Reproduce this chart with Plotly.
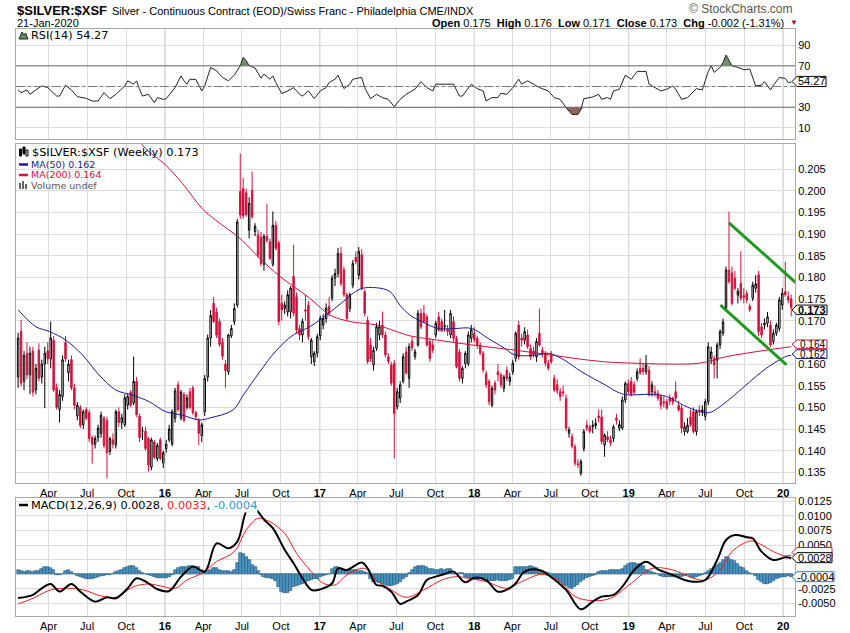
import numpy as np
import pandas as pd
import plotly.graph_objects as go

# weekly bars, week of 19-Jan-2015 .. week of 20-Jan-2020
weeks = pd.date_range("2015-01-19", periods=262, freq="7D")

open_ = [
    0.1570, 0.1675, 0.1560, 0.1625, 0.1575, 0.1630, 0.1540, 0.1632, 0.1570, 0.1600,
    0.1630, 0.1612, 0.1655, 0.1545, 0.1495, 0.1525, 0.1650, 0.1580, 0.1610, 0.1545,
    0.1480, 0.1500, 0.1460, 0.1495, 0.1488, 0.1430, 0.1415, 0.1430, 0.1440, 0.1475,
    0.1470, 0.1398, 0.1425, 0.1413, 0.1490, 0.1465, 0.1460, 0.1505, 0.1535, 0.1510,
    0.1560, 0.1480, 0.1445, 0.1445, 0.1428, 0.1362, 0.1420, 0.1382, 0.1425, 0.1372,
    0.1405, 0.1425, 0.1415, 0.1475, 0.1552, 0.1475, 0.1530, 0.1500, 0.1536, 0.1545,
    0.1488, 0.1470, 0.1435, 0.1490, 0.1570, 0.1660, 0.1740, 0.1720, 0.1698, 0.1650,
    0.1600, 0.1582, 0.1665, 0.1698, 0.1736, 0.1998, 0.2005, 0.1995, 0.1909, 0.2001,
    0.1906, 0.1898, 0.1893, 0.1830, 0.1895, 0.1882, 0.1830, 0.1920, 0.1880, 0.1740,
    0.1728, 0.1720, 0.1721, 0.1802, 0.1755, 0.1682, 0.1667, 0.1725, 0.1736, 0.1617,
    0.1605, 0.1625, 0.1665, 0.1690, 0.1705, 0.1733, 0.1752, 0.1798, 0.1809, 0.1855,
    0.1817, 0.1760, 0.1728, 0.1782, 0.1846, 0.1805, 0.1852, 0.1767, 0.1701, 0.1644,
    0.1598, 0.1636, 0.1667, 0.1690, 0.1667, 0.1617, 0.1598, 0.1602, 0.1502, 0.1521,
    0.1560, 0.1628, 0.1567, 0.1652, 0.1617, 0.1644, 0.1717, 0.1717, 0.1709, 0.1652,
    0.1644, 0.1667, 0.1709, 0.1698, 0.1686, 0.1680, 0.1667, 0.1698, 0.1659, 0.1628,
    0.1567, 0.1601, 0.1601, 0.1660, 0.1671, 0.1659, 0.1644, 0.1625, 0.1578, 0.1560,
    0.1505, 0.1556, 0.1582, 0.1575, 0.1544, 0.1586, 0.1560, 0.1582, 0.1613, 0.1690,
    0.1660, 0.1655, 0.1667, 0.1636, 0.1630, 0.1617, 0.1671, 0.1632, 0.1625, 0.1602,
    0.1620, 0.1567, 0.1552, 0.1536, 0.1536, 0.1521, 0.1440, 0.1432, 0.1409, 0.1370,
    0.1348, 0.1405, 0.1459, 0.1455, 0.1455, 0.1458, 0.1480, 0.1478, 0.1413, 0.1432,
    0.1425, 0.1428, 0.1475, 0.1452, 0.1452, 0.1517, 0.1555, 0.1560, 0.1552, 0.1567,
    0.1590, 0.1590, 0.1582, 0.1586, 0.1536, 0.1536, 0.1532, 0.1525, 0.1513, 0.1513,
    0.1521, 0.1521, 0.1536, 0.1505, 0.1498, 0.1444, 0.1444, 0.1478, 0.1490, 0.1444,
    0.1494, 0.1490, 0.1479, 0.1513, 0.1613, 0.1613, 0.1609, 0.1644, 0.1671, 0.1729,
    0.1817, 0.1810, 0.1798, 0.1759, 0.1786, 0.1758, 0.1763, 0.1733, 0.1752, 0.1775,
    0.1806, 0.1686, 0.1690, 0.1694, 0.1690, 0.1652, 0.1671, 0.1682, 0.1736, 0.1767,
    0.1755, 0.1750]

high = [
    0.1672, 0.1702, 0.1630, 0.1650, 0.1640, 0.1640, 0.1600, 0.1648, 0.1610, 0.1640,
    0.1650, 0.1698, 0.1665, 0.1555, 0.1540, 0.1620, 0.1665, 0.1610, 0.1620, 0.1555,
    0.1512, 0.1505, 0.1495, 0.1500, 0.1495, 0.1435, 0.1435, 0.1460, 0.1490, 0.1480,
    0.1478, 0.1432, 0.1440, 0.1495, 0.1500, 0.1485, 0.1530, 0.1532, 0.1540, 0.1617,
    0.1570, 0.1485, 0.1455, 0.1455, 0.1432, 0.1430, 0.1425, 0.1418, 0.1430, 0.1400,
    0.1425, 0.1460, 0.1495, 0.1545, 0.1560, 0.1540, 0.1535, 0.1530, 0.1545, 0.1550,
    0.1492, 0.1475, 0.1465, 0.1575, 0.1668, 0.1725, 0.1755, 0.1730, 0.1705, 0.1660,
    0.1610, 0.1670, 0.1690, 0.1740, 0.1935, 0.2086, 0.2030, 0.2005, 0.1985, 0.2044,
    0.1925, 0.1910, 0.1905, 0.1900, 0.1970, 0.1890, 0.1952, 0.1930, 0.1885, 0.1760,
    0.1745, 0.1770, 0.1780, 0.1875, 0.1765, 0.1690, 0.1705, 0.1760, 0.1745, 0.1660,
    0.1630, 0.1670, 0.1712, 0.1715, 0.1740, 0.1755, 0.1805, 0.1820, 0.1868, 0.1870,
    0.1825, 0.1765, 0.1765, 0.1840, 0.1860, 0.1870, 0.1865, 0.1772, 0.1710, 0.1660,
    0.1640, 0.1695, 0.1700, 0.1721, 0.1675, 0.1625, 0.1605, 0.1610, 0.1545, 0.1560,
    0.1625, 0.1640, 0.1648, 0.1662, 0.1635, 0.1725, 0.1728, 0.1736, 0.1715, 0.1660,
    0.1655, 0.1700, 0.1720, 0.1705, 0.1725, 0.1690, 0.1725, 0.1710, 0.1665, 0.1635,
    0.1595, 0.1630, 0.1675, 0.1690, 0.1685, 0.1665, 0.1650, 0.1630, 0.1585, 0.1565,
    0.1550, 0.1562, 0.1600, 0.1580, 0.1575, 0.1595, 0.1580, 0.1610, 0.1675, 0.1700,
    0.1670, 0.1685, 0.1680, 0.1645, 0.1640, 0.1660, 0.1728, 0.1640, 0.1630, 0.1610,
    0.1630, 0.1575, 0.1565, 0.1545, 0.1550, 0.1530, 0.1455, 0.1440, 0.1415, 0.1380,
    0.1380, 0.1450, 0.1470, 0.1460, 0.1470, 0.1475, 0.1495, 0.1495, 0.1440, 0.1445,
    0.1435, 0.1460, 0.1485, 0.1470, 0.1525, 0.1560, 0.1565, 0.1570, 0.1560, 0.1590,
    0.1613, 0.1600, 0.1621, 0.1595, 0.1560, 0.1550, 0.1540, 0.1530, 0.1525, 0.1520,
    0.1530, 0.1525, 0.1560, 0.1515, 0.1505, 0.1465, 0.1475, 0.1495, 0.1500, 0.1495,
    0.1505, 0.1505, 0.1520, 0.1650, 0.1640, 0.1620, 0.1650, 0.1680, 0.1705, 0.1825,
    0.1952, 0.1825, 0.1815, 0.1775, 0.1860, 0.1775, 0.1770, 0.1740, 0.1790, 0.1805,
    0.1815, 0.1695, 0.1705, 0.1720, 0.1700, 0.1680, 0.1695, 0.1755, 0.1775, 0.1836,
    0.1768, 0.1760]

low = [
    0.1545, 0.1548, 0.1540, 0.1565, 0.1530, 0.1525, 0.1530, 0.1560, 0.1555, 0.1498,
    0.1600, 0.1590, 0.1535, 0.1495, 0.1465, 0.1515, 0.1605, 0.1560, 0.1540, 0.1495,
    0.1470, 0.1452, 0.1450, 0.1470, 0.1420, 0.1370, 0.1405, 0.1420, 0.1430, 0.1405,
    0.1336, 0.1390, 0.1405, 0.1405, 0.1455, 0.1450, 0.1455, 0.1495, 0.1500, 0.1505,
    0.1478, 0.1420, 0.1425, 0.1400, 0.1352, 0.1355, 0.1380, 0.1375, 0.1378, 0.1360,
    0.1395, 0.1420, 0.1410, 0.1465, 0.1490, 0.1470, 0.1465, 0.1495, 0.1495, 0.1482,
    0.1470, 0.1413, 0.1420, 0.1480, 0.1560, 0.1640, 0.1695, 0.1660, 0.1640, 0.1610,
    0.1545, 0.1575, 0.1660, 0.1690, 0.1730, 0.1935, 0.1935, 0.1940, 0.1890, 0.1935,
    0.1895, 0.1845, 0.1825, 0.1815, 0.1880, 0.1840, 0.1825, 0.1862, 0.1690, 0.1700,
    0.1715, 0.1710, 0.1705, 0.1710, 0.1670, 0.1655, 0.1650, 0.1700, 0.1655, 0.1600,
    0.1595, 0.1615, 0.1655, 0.1680, 0.1695, 0.1710, 0.1745, 0.1780, 0.1800, 0.1780,
    0.1755, 0.1700, 0.1720, 0.1775, 0.1830, 0.1795, 0.1770, 0.1710, 0.1600, 0.1605,
    0.1585, 0.1630, 0.1655, 0.1660, 0.1615, 0.1600, 0.1550, 0.1382, 0.1495, 0.1510,
    0.1555, 0.1575, 0.1545, 0.1630, 0.1610, 0.1640, 0.1680, 0.1695, 0.1640, 0.1605,
    0.1625, 0.1660, 0.1675, 0.1675, 0.1675, 0.1665, 0.1660, 0.1650, 0.1590, 0.1560,
    0.1555, 0.1590, 0.1595, 0.1650, 0.1650, 0.1635, 0.1620, 0.1580, 0.1545, 0.1505,
    0.1500, 0.1530, 0.1560, 0.1545, 0.1535, 0.1560, 0.1550, 0.1575, 0.1605, 0.1610,
    0.1640, 0.1645, 0.1635, 0.1610, 0.1615, 0.1605, 0.1640, 0.1615, 0.1595, 0.1585,
    0.1600, 0.1535, 0.1530, 0.1515, 0.1525, 0.1445, 0.1430, 0.1405, 0.1365, 0.1360,
    0.1342, 0.1398, 0.1445, 0.1440, 0.1440, 0.1450, 0.1465, 0.1415, 0.1386, 0.1420,
    0.1410, 0.1420, 0.1460, 0.1445, 0.1448, 0.1510, 0.1530, 0.1525, 0.1530, 0.1560,
    0.1575, 0.1575, 0.1575, 0.1525, 0.1525, 0.1525, 0.1515, 0.1495, 0.1500, 0.1495,
    0.1505, 0.1505, 0.1515, 0.1490, 0.1440, 0.1435, 0.1440, 0.1455, 0.1440, 0.1435,
    0.1480, 0.1480, 0.1470, 0.1505, 0.1600, 0.1567, 0.1567, 0.1635, 0.1665, 0.1720,
    0.1785, 0.1735, 0.1770, 0.1740, 0.1745, 0.1740, 0.1740, 0.1720, 0.1745, 0.1765,
    0.1665, 0.1660, 0.1680, 0.1685, 0.1640, 0.1645, 0.1665, 0.1675, 0.1725, 0.1755,
    0.1740, 0.1710]

close = [
    0.1660, 0.1556, 0.1620, 0.1575, 0.1625, 0.1535, 0.1590, 0.1567, 0.1600, 0.1625,
    0.1612, 0.1660, 0.1540, 0.1500, 0.1530, 0.1610, 0.1612, 0.1600, 0.1545, 0.1505,
    0.1505, 0.1458, 0.1490, 0.1475, 0.1428, 0.1415, 0.1428, 0.1452, 0.1482, 0.1412,
    0.1395, 0.1428, 0.1415, 0.1490, 0.1465, 0.1476, 0.1522, 0.1525, 0.1505, 0.1560,
    0.1483, 0.1430, 0.1445, 0.1405, 0.1367, 0.1425, 0.1385, 0.1412, 0.1382, 0.1395,
    0.1415, 0.1450, 0.1490, 0.1538, 0.1495, 0.1535, 0.1470, 0.1522, 0.1500, 0.1488,
    0.1478, 0.1440, 0.1460, 0.1567, 0.1660, 0.1712, 0.1698, 0.1667, 0.1645, 0.1618,
    0.1585, 0.1667, 0.1682, 0.1728, 0.1928, 0.1944, 0.1942, 0.1945, 0.1971, 0.1940,
    0.1918, 0.1852, 0.1832, 0.1895, 0.1885, 0.1844, 0.1920, 0.1867, 0.1698, 0.1725,
    0.1736, 0.1760, 0.1775, 0.1717, 0.1679, 0.1667, 0.1698, 0.1722, 0.1663, 0.1655,
    0.1625, 0.1663, 0.1705, 0.1705, 0.1729, 0.1718, 0.1798, 0.1809, 0.1855, 0.1786,
    0.1760, 0.1705, 0.1760, 0.1832, 0.1836, 0.1860, 0.1775, 0.1717, 0.1606, 0.1612,
    0.1632, 0.1686, 0.1686, 0.1667, 0.1621, 0.1606, 0.1556, 0.1486, 0.1536, 0.1552,
    0.1617, 0.1580, 0.1640, 0.1638, 0.1628, 0.1717, 0.1686, 0.1698, 0.1644, 0.1613,
    0.1632, 0.1694, 0.1678, 0.1676, 0.1688, 0.1675, 0.1717, 0.1659, 0.1594, 0.1567,
    0.1590, 0.1625, 0.1667, 0.1679, 0.1656, 0.1644, 0.1625, 0.1586, 0.1552, 0.1513,
    0.1544, 0.1540, 0.1575, 0.1552, 0.1570, 0.1567, 0.1570, 0.1602, 0.1671, 0.1617,
    0.1655, 0.1675, 0.1640, 0.1617, 0.1622, 0.1652, 0.1644, 0.1625, 0.1602, 0.1590,
    0.1605, 0.1540, 0.1538, 0.1525, 0.1533, 0.1452, 0.1448, 0.1410, 0.1371, 0.1367,
    0.1375, 0.1444, 0.1452, 0.1445, 0.1459, 0.1463, 0.1476, 0.1421, 0.1436, 0.1425,
    0.1418, 0.1455, 0.1470, 0.1460, 0.1517, 0.1555, 0.1536, 0.1530, 0.1535, 0.1582,
    0.1580, 0.1583, 0.1598, 0.1529, 0.1552, 0.1532, 0.1521, 0.1505, 0.1510, 0.1498,
    0.1514, 0.1512, 0.1521, 0.1494, 0.1452, 0.1455, 0.1459, 0.1460, 0.1444, 0.1490,
    0.1492, 0.1494, 0.1513, 0.1640, 0.1628, 0.1598, 0.1644, 0.1675, 0.1697, 0.1817,
    0.1790, 0.1740, 0.1775, 0.1768, 0.1752, 0.1754, 0.1748, 0.1725, 0.1782, 0.1785,
    0.1675, 0.1667, 0.1694, 0.1709, 0.1644, 0.1671, 0.1690, 0.1748, 0.1763, 0.1760,
    0.1748, 0.1730]

ma50_dates = ["2015-01-19", "2015-03-02", "2015-04-03", "2015-05-12", "2015-06-20",
              "2015-07-29", "2015-09-07", "2015-10-17", "2015-11-25", "2016-01-03",
              "2016-02-11", "2016-03-22", "2016-04-18", "2016-06-10", "2016-07-04",
              "2016-08-12", "2016-09-21", "2016-10-30", "2016-12-08", "2017-01-17",
              "2017-02-25", "2017-04-06", "2017-05-15", "2017-06-16", "2017-07-09",
              "2017-08-02", "2017-08-30", "2017-10-08", "2017-11-16", "2017-12-26",
              "2018-02-03", "2018-03-14", "2018-04-07", "2018-06-01", "2018-06-25",
              "2018-07-26", "2018-09-12", "2018-11-06", "2018-12-04", "2018-12-27",
              "2019-02-20", "2019-04-01", "2019-05-10", "2019-06-18", "2019-07-11",
              "2019-08-20", "2019-10-14", "2019-11-22", "2020-01-09", "2020-01-20"]
ma50 = [0.1725, 0.1686, 0.1675, 0.1655, 0.1621, 0.1575, 0.1540, 0.1528, 0.1513, 0.1490,
        0.1482, 0.1471, 0.1476, 0.1494, 0.1528, 0.1582, 0.1632, 0.1667, 0.1686, 0.1713,
        0.1744, 0.1773, 0.1776, 0.1767, 0.1736, 0.1713, 0.1698, 0.1682, 0.1682, 0.1682,
        0.1659, 0.1636, 0.1621, 0.1621, 0.1625, 0.1613, 0.1582, 0.1552, 0.1536, 0.1529,
        0.1530, 0.1525, 0.1505, 0.1490, 0.1488, 0.1513, 0.1559, 0.1590, 0.1618, 0.1620]

ma200_dates = ["2015-01-19", "2015-06-01", "2015-11-09", "2016-01-03", "2016-02-11",
               "2016-03-29", "2016-04-30", "2016-06-26", "2016-08-12", "2016-09-29",
               "2016-12-08", "2017-01-25", "2017-03-14", "2017-05-15", "2017-07-01",
               "2017-08-02", "2017-10-08", "2017-12-26", "2018-03-14", "2018-06-01",
               "2018-08-19", "2018-11-06", "2019-01-11", "2019-04-01", "2019-06-18",
               "2019-08-20", "2019-11-22", "2020-01-20"]
ma200 = [0.2500, 0.2360, 0.2105, 0.2059, 0.2017, 0.1959, 0.1932, 0.1890, 0.1844, 0.1802,
         0.1752, 0.1713, 0.1698, 0.1690, 0.1675, 0.1665, 0.1655, 0.1644, 0.1635, 0.1625,
         0.1614, 0.1605, 0.1602, 0.1600, 0.1602, 0.1617, 0.1632, 0.1640]

# hand-drawn channel
chan_top_dates = ["2019-08-26", "2020-02-02"]
chan_top = [0.1926, 0.1786]
chan_bot_dates = ["2019-08-06", "2020-01-09"]
chan_bot = [0.1736, 0.1598]

# RSI(14), read at the listed weeks
rsi_idx = [0, 1, 3, 4, 6, 8, 10, 13, 14, 16, 18, 20, 23, 25, 27, 29, 31, 33, 36, 37,
           39, 40, 41, 42, 44, 46, 47, 49, 50, 53, 55, 56, 57, 58, 60, 62, 63, 65, 67, 69,
           71, 73, 75, 76, 77, 78, 80, 82, 83, 85, 86, 87, 89, 91, 93, 95, 96, 98, 100, 102,
           104, 105, 107, 108, 110, 112, 113, 116, 117, 119, 121, 123, 125, 127, 129, 131,
           134, 136, 138, 140, 141, 144, 147, 149, 150, 153, 155, 157, 158, 160, 162, 163,
           165, 167, 169, 170, 172, 174, 176, 179, 181, 183, 185, 187, 189, 190, 191, 194,
           196, 197, 199, 200, 201, 203, 205, 207, 209, 212, 213, 215, 217, 219, 221, 222,
           224, 226, 228, 229, 231, 233, 234, 235, 237, 238, 239, 241, 243, 245, 247, 249,
           251, 252, 254, 255, 257, 259, 260, 261]
rsi = [46.7, 44.1, 46.7, 42.5, 46.7, 50.6, 49.0, 40.8, 40.8, 51.3, 46.7, 40.2, 38.6, 36.0,
       36.0, 44.1, 38.3, 42.5, 50.6, 55.5, 52.3, 55.5, 47.4, 40.8, 42.5, 34.4, 39.3, 37.6,
       38.3, 49.0, 60.3, 55.5, 52.3, 57.1, 56.8, 45.7, 50.6, 68.5, 65.2, 58.8, 55.5, 61.0,
       70.1, 78.3, 75.0, 70.1, 67.9, 58.1, 62.0, 57.1, 60.3, 53.9, 43.2, 45.7, 49.0, 42.5,
       40.8, 45.7, 38.3, 45.7, 49.0, 53.9, 57.1, 61.0, 48.0, 52.3, 57.1, 58.8, 49.0, 38.3,
       42.5, 39.3, 37.6, 30.5, 37.6, 42.5, 47.4, 54.8, 49.0, 45.7, 52.3, 52.0, 52.3, 40.8,
       40.8, 52.3, 48.0, 45.7, 36.0, 39.3, 39.3, 43.5, 42.5, 49.0, 57.1, 52.3, 55.5, 52.3,
       49.0, 45.7, 39.3, 37.6, 29.5, 23.0, 23.0, 27.8, 38.3, 39.9, 42.5, 37.6, 39.3, 37.6,
       45.7, 47.4, 61.0, 57.1, 64.6, 64.6, 52.3, 49.0, 45.7, 47.4, 50.6, 47.4, 37.6, 39.3,
       45.7, 48.0, 46.7, 64.6, 70.1, 63.7, 68.5, 73.4, 80.5, 70.1, 68.5, 66.2, 66.9, 50.6,
       51.3, 54.8, 46.7, 51.3, 58.8, 57.8, 53.9, 54.27]

# MACD(12,26,9)
macd_idx = [0, 3, 5, 8, 11, 14, 18, 21, 26, 30, 33, 37, 40, 44, 47, 51, 55, 59, 63, 67,
            71, 74, 77, 79, 81, 83, 86, 90, 93, 96, 99, 102, 106, 108, 111, 116, 118, 121,
            123, 126, 129, 131, 135, 138, 141, 144, 147, 151, 154, 158, 162, 166, 168, 171,
            176, 179, 185, 190, 194, 197, 201, 204, 208, 212, 216, 221, 225, 228, 232, 236,
            239, 242, 246, 248, 251, 255, 259, 261]
macd = [-0.00410, -0.00385, -0.00356, -0.00242, -0.00168, -0.00299, -0.00168, -0.00299,
        -0.00471, -0.00397, -0.00414, -0.00242, -0.00070, -0.00156, -0.00259, -0.00288,
        -0.00042, 0.00130, 0.00044, 0.00530, 0.00445, 0.00560, 0.01075, 0.01180, 0.01075,
        0.00940, 0.00790, 0.00420, 0.00187, -0.00070, -0.00270, -0.00260, -0.00156,
        0.00100, 0.00073, 0.00200, 0.00100, -0.00185, -0.00200, -0.00300, -0.00510,
        -0.00470, -0.00356, -0.00100, -0.00042, 0.00004, 0.00044, -0.00140, -0.00060,
        -0.00100, -0.00300, -0.00240, -0.00156, 0.00044, 0.00073, -0.00013, -0.00270,
        -0.00603, -0.00470, -0.00385, -0.00356, -0.00214, 0.00073, 0.00216, 0.00084,
        -0.00013, -0.00100, -0.00128, -0.00100, 0.00244, 0.00588, 0.00674, 0.00634,
        0.00617, 0.00388, 0.00244, 0.00290, 0.00280]
sig_idx = [0, 5, 11, 17, 22, 28, 33, 39, 44, 48, 53, 57, 62, 67, 73, 77, 81, 85, 90, 94,
           99, 103, 107, 111, 117, 121, 126, 131, 137, 143, 148, 152, 158, 165, 170, 177,
           183, 188, 194, 200, 207, 214, 221, 228, 232, 237, 241, 247, 250, 255, 259, 261]
signal = [-0.00510, -0.00414, -0.00270, -0.00242, -0.00270, -0.00374, -0.00397, -0.00214,
          -0.00168, -0.00200, -0.00242, -0.00100, 0.00015, 0.00216, 0.00388, 0.00760,
          0.00960, 0.00900, 0.00700, 0.00359, 0.00044, -0.00156, -0.00185, -0.00013,
          0.00100, -0.00100, -0.00270, -0.00397, -0.00270, -0.00100, -0.00042, -0.00070,
          -0.00128, -0.00242, -0.00128, -0.00002, -0.00128, -0.00385, -0.00454, -0.00414,
          -0.00156, 0.00100, 0.00073, -0.00070, -0.00100, 0.00073, 0.00388, 0.00570,
          0.00530, 0.00388, 0.00313, 0.00330]
hist = [
    0.0007, 0.0006, 0.0004, 0.0005, 0.0005, 0.0004, 0.0005, 0.0006, 0.0009, 0.0012,
    0.0012, 0.0011, 0.0007, -0.0001, -0.0002, 0.0000, 0.0005, 0.0007, 0.0004, 0.0000,
    -0.0003, -0.0005, -0.0007, -0.0008, -0.0009, -0.0008, -0.0007, -0.0005, -0.0003, -0.0003,
    -0.0002, -0.0002, 0.0000, 0.0003, 0.0006, 0.0008, 0.0010, 0.0013, 0.0014, 0.0014,
    0.0011, 0.0005, 0.0002, 0.0000, -0.0001, -0.0003, -0.0005, -0.0006, -0.0007, -0.0007,
    -0.0006, -0.0005, -0.0002, 0.0008, 0.0011, 0.0012, 0.0012, 0.0013, 0.0014, 0.0014,
    0.0013, 0.0012, 0.0007, 0.0006, 0.0005, 0.0008, 0.0011, 0.0010, 0.0008, 0.0006,
    0.0005, 0.0005, 0.0004, 0.0008, 0.0020, 0.0037, 0.0035, 0.0030, 0.0025, 0.0016,
    0.0012, 0.0006, -0.0002, -0.0005, -0.0006, -0.0007, -0.0008, -0.0012, -0.0022, -0.0030,
    -0.0033, -0.0032, -0.0028, -0.0022, -0.0020, -0.0018, -0.0017, -0.0014, -0.0012, -0.0010,
    -0.0009, -0.0008, -0.0005, -0.0003, -0.0002, 0.0001, 0.0009, 0.0013, 0.0012, 0.0010,
    0.0008, 0.0006, 0.0007, 0.0008, 0.0008, 0.0006, 0.0005, 0.0004, 0.0002, -0.0008,
    -0.0013, -0.0014, -0.0015, -0.0016, -0.0019, -0.0021, -0.0020, -0.0019, -0.0017, -0.0013,
    -0.0008, -0.0004, 0.0002, 0.0008, 0.0013, 0.0014, 0.0014, 0.0014, 0.0012, 0.0009,
    0.0009, 0.0008, 0.0008, 0.0009, 0.0008, 0.0009, 0.0009, 0.0001, 0.0000, 0.0002,
    0.0002, -0.0005, -0.0007, -0.0007, -0.0009, -0.0010, -0.0008, -0.0010, -0.0011, -0.0012,
    -0.0012, -0.0011, -0.0010, -0.0011, -0.0012, -0.0011, -0.0010, -0.0009, 0.0012, 0.0013,
    0.0013, 0.0012, 0.0013, 0.0014, 0.0012, 0.0010, 0.0007, 0.0006, 0.0004, 0.0002,
    -0.0003, -0.0006, -0.0010, -0.0014, -0.0018, -0.0021, -0.0023, -0.0025, -0.0022, -0.0018,
    -0.0014, -0.0010, -0.0007, -0.0005, -0.0003, -0.0002, 0.0003, 0.0005, 0.0006, 0.0006,
    0.0007, 0.0007, 0.0008, 0.0008, 0.0009, 0.0014, 0.0017, 0.0019, 0.0019, 0.0018,
    0.0017, 0.0014, 0.0008, 0.0006, 0.0004, 0.0002, 0.0000, -0.0003, -0.0004, -0.0004,
    -0.0005, -0.0004, -0.0004, -0.0005, -0.0004, -0.0003, -0.0002, -0.0004, -0.0006, -0.0005,
    -0.0003, -0.0001, 0.0002, 0.0006, 0.0009, 0.0012, 0.0015, 0.0019, 0.0024, 0.0029,
    0.0028, 0.0025, 0.0022, 0.0017, 0.0012, 0.0010, 0.0005, 0.0002, 0.0000, -0.0003,
    -0.0010, -0.0014, -0.0016, -0.0017, -0.0015, -0.0012, -0.0008, -0.0006, -0.0004, -0.0004,
    -0.0003, -0.0004]

tick_dates = ["2015-04-01", "2015-07-01", "2015-10-01", "2016-01-01", "2016-04-01",
              "2016-07-01", "2016-10-01", "2017-01-01", "2017-04-01", "2017-07-01",
              "2017-10-01", "2018-01-01", "2018-04-01", "2018-07-01", "2018-10-01",
              "2019-01-01", "2019-04-01", "2019-07-01", "2019-10-01", "2020-01-01"]
tick_text = ["Apr", "Jul", "Oct", "<b>16</b>", "Apr", "Jul", "Oct", "<b>17</b>", "Apr",
             "Jul", "Oct", "<b>18</b>", "Apr", "Jul", "Oct", "<b>19</b>", "Apr", "Jul",
             "Oct", "<b>20</b>"]
year_dates = ["2016-01-01", "2017-01-01", "2018-01-01", "2019-01-01", "2020-01-01"]

# axis labels; the ones sitting under a value tag are left blank
price_ticks = [0.135, 0.140, 0.145, 0.150, 0.155, 0.160, 0.165, 0.170, 0.175, 0.180,
               0.185, 0.190, 0.195, 0.200, 0.205]
price_labels = ["0.135", "0.140", "0.145", "0.150", "0.155", "0.160", "", "0.170", "0.175",
                "0.180", "0.185", "0.190", "0.195", "0.200", "0.205"]
rsi_ticks = [10, 30, 50, 70, 90]
rsi_labels = ["10", "30", "", "70", "90"]
macd_ticks = [-0.0050, -0.0025, 0.0, 0.0025, 0.0050, 0.0075, 0.0100, 0.0125]
macd_labels = ["-0.0050", "-0.0025", "", "", "0.0050", "0.0075", "0.0100", "0.0125"]

for name, arr in [("open", open_), ("high", high), ("low", low), ("close", close), ("hist", hist)]:
    assert len(arr) == len(weeks), (name, len(arr))
assert len(rsi) == len(rsi_idx) and len(macd) == len(macd_idx) and len(signal) == len(sig_idx)

# ---- page geometry (850 x 633) ----
W, H = 850, 633
ML, MR, MT, MB = 16, 55, 29, 17


def px(x):
    return (x - ML) / (W - ML - MR)


def py(y):
    return (H - MB - y) / (H - MT - MB)


GRID = "#dcdcdc"
FRAME = "#a8a8a8"
RED = "#d2123c"
NAVY = "#1c1c8e"
FONT = "Liberation Sans, Arial, sans-serif"
LEG = "DejaVu Sans, Verdana, sans-serif"

fig = go.Figure()

# ---- RSI panel ----
rsi_x = weeks[rsi_idx]
rsi_arr = np.array(rsi)
fig.add_trace(go.Scatter(x=rsi_x, y=np.full(len(rsi), 70.0), mode="lines", line=dict(width=0),
                         hoverinfo="skip", xaxis="x", yaxis="y"))
fig.add_trace(go.Scatter(x=rsi_x, y=np.maximum(rsi_arr, 70), mode="lines", line=dict(width=0),
                         fill="tonexty", fillcolor="#6e916e", hoverinfo="skip", xaxis="x", yaxis="y"))
fig.add_trace(go.Scatter(x=rsi_x, y=np.full(len(rsi), 30.0), mode="lines", line=dict(width=0),
                         hoverinfo="skip", xaxis="x", yaxis="y"))
fig.add_trace(go.Scatter(x=rsi_x, y=np.minimum(rsi_arr, 30), mode="lines", line=dict(width=0),
                         fill="tonexty", fillcolor="#93605f", hoverinfo="skip", xaxis="x", yaxis="y"))
fig.add_trace(go.Scatter(x=rsi_x, y=rsi, mode="lines", line=dict(color="#222222", width=1),
                         xaxis="x", yaxis="y"))

# ---- price panel ----
fig.add_trace(go.Candlestick(
    x=weeks, open=open_, high=high, low=low, close=close, xaxis="x2", yaxis="y2",
    increasing=dict(line=dict(color="black", width=1), fillcolor="white"),
    decreasing=dict(line=dict(color=RED, width=1), fillcolor=RED),
    whiskerwidth=0))
fig.add_trace(go.Scatter(x=ma200_dates, y=ma200, mode="lines", line=dict(color=RED, width=1),
                         line_shape="spline", xaxis="x2", yaxis="y2"))
fig.add_trace(go.Scatter(x=ma50_dates, y=ma50, mode="lines", line=dict(color=NAVY, width=1),
                         line_shape="spline", xaxis="x2", yaxis="y2"))
fig.add_trace(go.Scatter(x=chan_top_dates, y=chan_top, mode="lines",
                         line=dict(color="#1f9a1f", width=3), xaxis="x2", yaxis="y2"))
fig.add_trace(go.Scatter(x=chan_bot_dates, y=chan_bot, mode="lines",
                         line=dict(color="#1f9a1f", width=3), xaxis="x2", yaxis="y2"))

# ---- MACD panel ----
fig.add_trace(go.Bar(x=weeks, y=hist, width=7 * 86400000, xaxis="x3", yaxis="y3",
                     marker=dict(color="#4a94c4", line=dict(color="#1f5272", width=0.6))))
fig.add_trace(go.Scatter(x=weeks[sig_idx], y=signal, mode="lines", line=dict(color="#ff1a1a", width=1),
                         line_shape="spline", xaxis="x3", yaxis="y3"))
fig.add_trace(go.Scatter(x=weeks[macd_idx], y=macd, mode="lines", line=dict(color="black", width=2),
                         line_shape="spline", xaxis="x3", yaxis="y3"))

xr = ["2015-01-14", "2020-01-29"]
xcommon = dict(type="date", range=xr, tickvals=tick_dates, ticktext=tick_text, ticks="",
               showgrid=True, gridcolor=GRID, gridwidth=1, showline=True, mirror=True,
               linecolor=FRAME, zeroline=False, automargin=False, fixedrange=True,
               rangeslider=dict(visible=False), tickfont=dict(size=11, color="black"))


def ycommon(vals, texts, rng, dom):
    return dict(domain=dom, range=rng, side="right", tickvals=vals, ticktext=texts, ticks="",
                showgrid=True, gridcolor=GRID, showline=True, mirror=True, linecolor=FRAME,
                zeroline=False, automargin=False, fixedrange=True,
                tickfont=dict(size=11, color="black"))


fig.update_layout(
    width=W, height=H, margin=dict(l=ML, r=MR, t=MT, b=MB),
    paper_bgcolor="white", plot_bgcolor="white", showlegend=False, bargap=0,
    font=dict(family=FONT, size=11, color="black"),
    xaxis=dict(xcommon, anchor="y", showticklabels=False),
    xaxis2=dict(xcommon, anchor="y2", matches="x"),
    xaxis3=dict(xcommon, anchor="y3", matches="x"),
    yaxis=ycommon(rsi_ticks, rsi_labels, [-0.7, 105.6], [py(139), py(29)]),
    yaxis2=ycommon(price_ticks, price_labels, [0.13254, 0.21078], [py(483), py(144)]),
    yaxis3=ycommon(macd_ticks, macd_labels, [-0.00718, 0.01309], [py(616), py(498)]),
)

shapes = []
for yd in year_dates:
    for yr in ["y domain", "y2 domain", "y3 domain"]:
        shapes.append(dict(type="line", xref="x", yref=yr, x0=yd, x1=yd, y0=0, y1=1,
                           line=dict(color="#bcbcbc", width=1), layer="below"))
for lvl in (70, 30):
    shapes.append(dict(type="line", xref="x domain", yref="y", x0=0, x1=1, y0=lvl, y1=lvl,
                       line=dict(color="#6e6e6e", width=1)))
shapes.append(dict(type="line", xref="x domain", yref="y", x0=0, x1=1, y0=50, y1=50,
                   line=dict(color="#7a7a7a", width=1, dash="dashdot")))

annotations = []


def tag(yref, yv, half, text, border, right, bold=False, size=11):
    x0, x1, x2 = px(792), px(797), px(right)
    path = "M %f,%f L %f,%f L %f,%f L %f,%f L %f,%f Z" % (
        x0, yv, x1, yv + half, x2, yv + half, x2, yv - half, x1, yv - half)
    shapes.append(dict(type="path", xref="paper", yref=yref, path=path, fillcolor="white",
                       line=dict(color=border, width=1), layer="above"))
    if text:
        t = "<b>%s</b>" % text if bold else text
        annotations.append(dict(x=(px(797) + px(right)) / 2, y=yv, xref="paper", yref=yref,
                                text=t, showarrow=False, font=dict(size=size, color="black"),
                                xanchor="center", yanchor="middle"))


tag("y", 54.9, 4.9, "54.27", "black", 826)
tag("y2", 0.16455, 0.00100, "0.164", RED, 827, size=10)
tag("y2", 0.16228, 0.00100, "0.162", NAVY, 827, size=10)
tag("y2", 0.17250, 0.00110, "0.173", "black", 827, bold=True)
tag("y3", 0.00373, 0.00086, "", RED, 832)      # signal tag, mostly covered
tag("y3", 0.00284, 0.00086, "0.0028", "black", 832)
tag("y3", -0.00043, 0.00086, "-0.0004", "#2a78b4", 834)


def note(x, y, text, size=11, color="black", anchor="left", family=FONT, bg=None):
    d = dict(x=px(x), y=py(y), xref="paper", yref="paper", text=text, showarrow=False,
             xanchor=anchor, yanchor="middle", font=dict(size=size, color=color, family=family))
    if bg:
        d["bgcolor"] = bg
        d["borderpad"] = 0
    annotations.append(d)


# header
note(15, 10, "<b>$SILVER:$XSF</b>", size=13)
note(110, 10.5, "Silver - Continuous Contract (EOD)/Swiss Franc - Philadelphia CME/INDX", size=11)
note(15, 23, "21-Jan-2020", size=11)
note(795, 9, "© StockCharts.com", size=12, color="#555555", anchor="right")
note(786, 23, "<b>Open</b> 0.175  <b>High</b> 0.176  <b>Low</b> 0.171  "
              "<b>Close</b> 0.173  <b>Chg</b> -0.002 (-1.31%)", size=11, anchor="right")
note(788, 23, "▼", size=8, color="#a0102a")

# panel legends
note(29, 35, "RSI(14) 54.27", size=11.3, family=LEG)
note(30, 152, "$SILVER:$XSF (Weekly) 0.173", size=11.3, family=LEG)
note(29, 164.5, "MA(50) 0.162", size=9.5, color=NAVY, family=LEG)
note(29, 175, "MA(200) 0.164", size=9.5, color=RED, family=LEG)
note(29, 185.5, "Volume undef", size=9.5, color="#555555", family=LEG)
note(30, 505, 'MACD(12,26,9) 0.0028, <span style="color:#ff1a1a">0.0033</span>, '
              '<span style="color:#3399cc">-0.0004</span>', size=11.3, family=LEG, bg="white")

# legend swatches
shapes.append(dict(type="path", xref="paper", yref="paper",
                   path="M %f,%f L %f,%f L %f,%f L %f,%f L %f,%f Z" % (
                       px(19), py(39), px(22), py(32), px(24), py(35), px(25.5), py(33),
                       px(28), py(39)),
                   fillcolor="#5f8f5f", line=dict(color="#222222", width=1)))
for x0, x1, y0, y1, fc in [(19.5, 21.5, 149, 156, "black"), (23, 25, 147, 154, "black"),
                           (26, 28, 150, 156, "white")]:
    shapes.append(dict(type="rect", xref="paper", yref="paper", x0=px(x0), x1=px(x1),
                       y0=py(y1), y1=py(y0), fillcolor=fc, line=dict(color="black", width=1)))
for yy, col in [(164.5, NAVY), (175, RED)]:
    shapes.append(dict(type="line", xref="paper", yref="paper", x0=px(19), x1=px(28),
                       y0=py(yy), y1=py(yy), line=dict(color=col, width=2.5)))
for x0, x1, y0 in [(19, 21, 183), (22, 24, 181), (25, 27, 184)]:
    shapes.append(dict(type="rect", xref="paper", yref="paper", x0=px(x0), x1=px(x1),
                       y0=py(189), y1=py(y0), fillcolor="#666666", line=dict(width=0)))
shapes.append(dict(type="line", xref="paper", yref="paper", x0=px(19), x1=px(28),
                   y0=py(505), y1=py(505), line=dict(color="black", width=2.5)))

fig.update_layout(shapes=shapes, annotations=annotations)
# the page's default 8px body margin would push the figure off its 850x633 frame
fig.write_html("out.html", config={"displayModeBar": False},
               post_script="document.body.style.margin = '0px';")
